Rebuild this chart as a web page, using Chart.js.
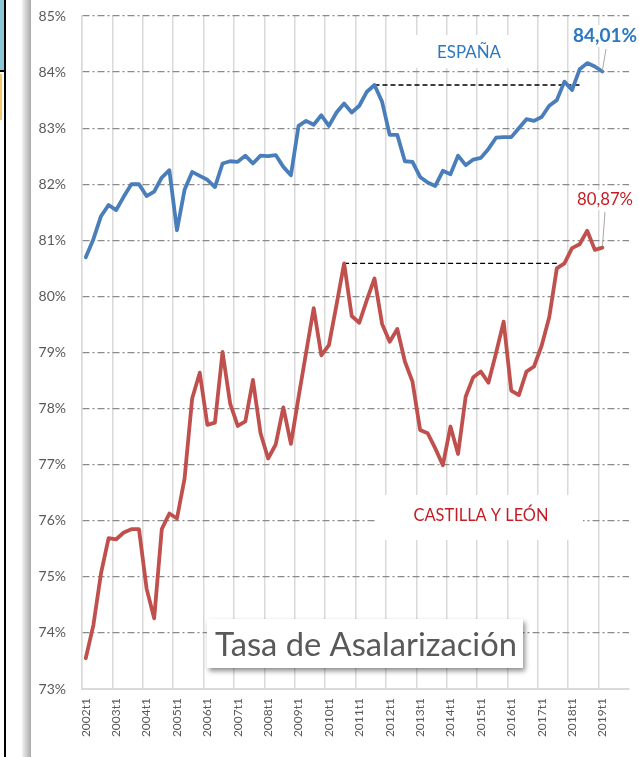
<!DOCTYPE html>
<html>
<head>
<meta charset="utf-8">
<script src="https://cdn.jsdelivr.net/npm/chart.js@4.4.1/dist/chart.umd.min.js"></script>
<style>
  html, body { margin: 0; padding: 0; background: #ffffff; }
  #wrap { position: relative; width: 639px; height: 757px; overflow: hidden; background: #fff; }
  #c { position: absolute; left: 0; top: 0; }
  .deco { position: absolute; }
</style>
</head>
<body>
<div id="wrap">
  <canvas id="c" width="639" height="757"></canvas>
  <div class="deco" style="left:0;top:0;width:4px;height:70px;background:#8cc6d4;border-right:2px solid #000;border-bottom:2px solid #000;"></div>
  <div class="deco" style="left:0;top:74px;width:2px;height:46px;background:#f2c66a;"></div>
  <div class="deco" style="left:4px;top:72px;width:2px;height:685px;background:#000;"></div>
  <div class="deco" style="left:22px;top:0;width:9px;height:757px;background:linear-gradient(to right,#f2f2f2,#a9a9a9);"></div>
</div>
<script>
// ---- data ----
const years = [2002,2003,2004,2005,2006,2007,2008,2009,2010,2011,2012,2013,2014,2015,2016,2017,2018,2019];
const quarters = ['t1','t2','t3','t4'];
const categories = years.flatMap(y => quarters.map(q => y + q));

const espana = [80.70, 81.02, 81.43, 81.63, 81.54, 81.78, 82.00, 82.00, 81.79, 81.87,
  82.12, 82.25, 81.18, 81.90, 82.22, 82.15, 82.08, 81.95, 82.37, 82.41,
  82.40, 82.51, 82.37, 82.51, 82.50, 82.52, 82.31, 82.16, 83.04, 83.13,
  83.06, 83.23, 83.04, 83.28, 83.44, 83.28, 83.40, 83.65, 83.77, 83.47,
  82.88, 82.88, 82.41, 82.40, 82.13, 82.03, 81.97, 82.24, 82.18, 82.51,
  82.34, 82.44, 82.47, 82.63, 82.83, 82.84, 82.84, 83.00, 83.16, 83.13,
  83.20, 83.40, 83.50, 83.83, 83.68, 84.05, 84.16, 84.10, 84.01];

const castilla = [73.55, 74.14, 75.06, 75.69, 75.67, 75.79, 75.85, 75.85, 74.79, 74.26,
  75.85, 76.13, 76.04, 76.75, 78.18, 78.64, 77.71, 77.75, 79.01, 78.09,
  77.69, 77.77, 78.51, 77.56, 77.11, 77.36, 78.02, 77.37, 78.20, 79.00,
  79.79, 78.95, 79.13, 79.85, 80.59, 79.65, 79.53, 79.94, 80.32, 79.51,
  79.19, 79.42, 78.84, 78.48, 77.62, 77.56, 77.29, 76.99, 77.68, 77.19,
  78.21, 78.56, 78.66, 78.46, 78.99, 79.55, 78.32, 78.24, 78.66, 78.75,
  79.12, 79.63, 80.50, 80.59, 80.86, 80.93, 81.17, 80.83, 80.87];

// reference (dashed) levels: [value, fromIndex, toIndex]
const espanaRef = [83.77, 38, 65];
const castillaRef = [80.59, 34, 62];

const yTicks = [73, 74, 75, 76, 77, 78, 79, 80, 81, 82, 83, 84, 85];
const lastLabelEspana = '84,01%';
const lastLabelCastilla = '80,87%';
const seriesNames = ['ESPAÑA', 'CASTILLA Y LEÓN'];
const chartTitle = 'Tasa de Asalarización';

function refSeries(ref) {
  return categories.map((_, i) => (i >= ref[1] && i <= ref[2]) ? ref[0] : null);
}

// ---- helpers ----
const FONT = 'Lato';
function fitSize(ctx, text, weight, target) {
  ctx.font = weight + ' 100px ' + FONT;
  return 100 * target / ctx.measureText(text).width;
}

const annot = {
  id: 'annot',
  beforeDatasetsDraw(chart) {
    const ctx = chart.ctx;
    ctx.save();
    ctx.fillStyle = '#ffffff';
    ctx.fillRect(413, 35, 114, 33);   // ESPAÑA label box
    ctx.fillRect(377, 495, 206, 45);  // CASTILLA label box
    ctx.fillRect(571, 25, 68, 22);    // 84,01 box
    ctx.fillRect(575, 190, 62, 20);   // 80,87 box
    ctx.restore();
  },
  afterDatasetsDraw(chart) {
    const ctx = chart.ctx;
    const xs = chart.scales.x, ys = chart.scales.y;
    ctx.save();
    ctx.textAlign = 'center';
    ctx.textBaseline = 'middle';
    // series names
    let s = fitSize(ctx, seriesNames[0], 'normal', 64);
    ctx.font = 'normal ' + s + 'px ' + FONT;
    ctx.fillStyle = '#2a78c2';
    ctx.fillText(seriesNames[0], 469, 53);
    s = fitSize(ctx, seriesNames[1], 'normal', 135);
    ctx.font = 'normal ' + s + 'px ' + FONT;
    ctx.fillStyle = '#c41e24';
    ctx.fillText(seriesNames[1], 481, 516);

    // leader lines
    const last = espana.length - 1;
    ctx.strokeStyle = '#a6a6a6';
    ctx.lineWidth = 1;
    ctx.beginPath();
    ctx.moveTo(606, 49);
    ctx.lineTo(xs.getPixelForValue(last), ys.getPixelForValue(espana[last]) - 1);
    ctx.moveTo(605, 212);
    ctx.lineTo(xs.getPixelForValue(last), ys.getPixelForValue(castilla[last]) - 1);
    ctx.stroke();

    // end labels
    s = fitSize(ctx, lastLabelEspana, 'bold', 64);
    ctx.font = 'bold ' + s + 'px ' + FONT;
    ctx.fillStyle = '#2a78c2';
    ctx.fillText(lastLabelEspana, 605, 36);
    s = fitSize(ctx, lastLabelCastilla, 'normal', 56);
    ctx.font = 'normal ' + s + 'px ' + FONT;
    ctx.fillStyle = '#c41e24';
    ctx.fillText(lastLabelCastilla, 605, 200);

    // title box
    ctx.save();
    ctx.shadowColor = 'rgba(0,0,0,0.45)';
    ctx.shadowBlur = 5;
    ctx.shadowOffsetX = 2;
    ctx.shadowOffsetY = 3;
    ctx.fillStyle = '#ffffff';
    ctx.fillRect(207, 619, 316, 49);
    ctx.restore();
    s = fitSize(ctx, chartTitle, 'normal', 302);
    ctx.font = 'normal ' + s + 'px ' + FONT;
    ctx.fillStyle = '#595959';
    ctx.fillText(chartTitle, 366, 645);
    ctx.restore();
  }
};

Chart.defaults.font.family = FONT;

new Chart(document.getElementById('c'), {
  type: 'line',
  data: {
    labels: categories,
    datasets: [
      { label: 'refE', data: refSeries(espanaRef), borderColor: '#000000', borderWidth: 1.3,
        borderDash: [5, 3], pointRadius: 0, spanGaps: false, order: 3 },
      { label: 'refC', data: refSeries(castillaRef), borderColor: '#000000', borderWidth: 1.3,
        borderDash: [5, 3], pointRadius: 0, spanGaps: false, order: 3 },
      { label: seriesNames[0], data: espana, borderColor: '#4a7ebb', borderWidth: 3.8,
        pointRadius: 0, tension: 0, borderJoinStyle: 'round', borderCapStyle: 'round', order: 1 },
      { label: seriesNames[1], data: castilla, borderColor: '#c0504d', borderWidth: 3.8,
        pointRadius: 0, tension: 0, borderJoinStyle: 'round', borderCapStyle: 'round', order: 2 }
    ]
  },
  options: {
    responsive: false,
    animation: false,
    devicePixelRatio: 1,
    layout: { padding: { left: 0, right: 10, top: 16, bottom: 0 } },
    plugins: { legend: { display: false }, tooltip: { enabled: false } },
    scales: {
      x: {
        type: 'category',
        offset: true,
        grid: {
          offset: true,
          drawTicks: false,
          lineWidth: 1.5,
          color: c => (c.index % 4 === 0) ? '#d9d9d9' : 'rgba(0,0,0,0)'
        },
        border: { display: true, color: '#d9d9d9', width: 2 },
        ticks: {
          autoSkip: false,
          maxRotation: 90,
          minRotation: 90,
          padding: 9,
          color: '#595959',
          font: { size: 12 },
          callback: (v, i) => (i % 4 === 0) ? categories[i] : ''
        },
        afterFit: sc => { sc.height = 68; sc.paddingLeft = 0; sc.paddingRight = 0; }
      },
      y: {
        min: 73,
        max: 85,
        afterBuildTicks: sc => { sc.ticks = yTicks.map(v => ({ value: v })); },
        grid: {
          drawTicks: false,
          lineWidth: 1.3,
          color: c => (c.tick && c.tick.value === 73) ? 'rgba(0,0,0,0)' : '#8a8a8a'
        },
        border: { display: true, color: '#d9d9d9', width: 1.5, dash: [7, 3, 2, 3] },
        ticks: {
          padding: 16,
          color: '#595959',
          font: { size: 14 },
          callback: v => v + '%'
        },
        afterFit: sc => { sc.width = 82; sc.paddingTop = 0; sc.paddingBottom = 0; }
      }
    }
  },
  plugins: [annot]
});
</script>
</body>
</html>
